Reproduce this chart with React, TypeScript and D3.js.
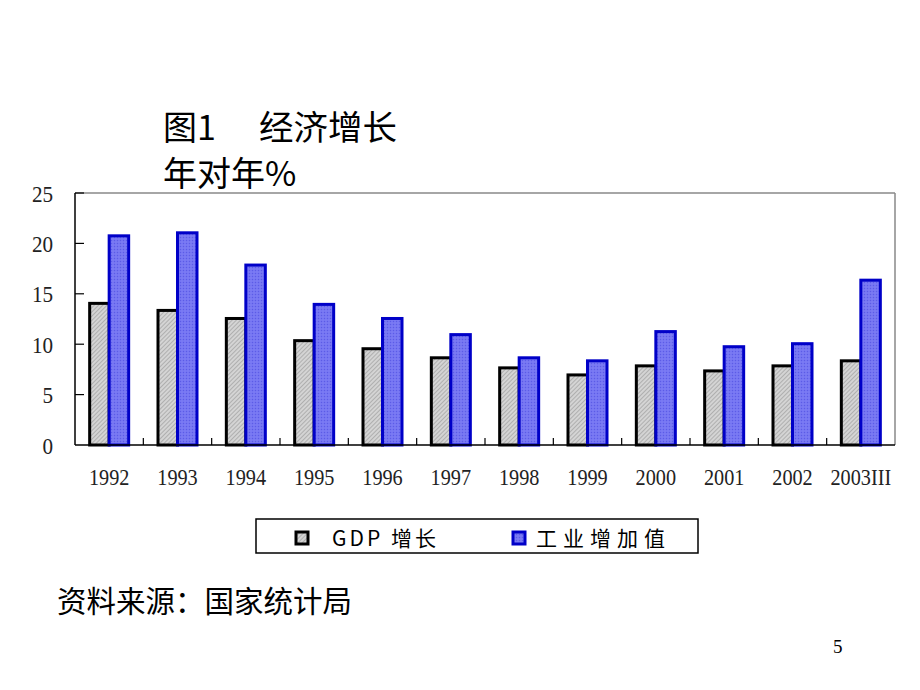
import React from 'react';
import * as d3 from 'd3';

const years = ['1992', '1993', '1994', '1995', '1996', '1997', '1998', '1999', '2000', '2001', '2002', '2003III'];
const gdpGrowth = [14.2, 13.5, 12.7, 10.5, 9.7, 8.8, 7.8, 7.1, 8.0, 7.5, 8.0, 8.5];
const industryGrowth = [20.9, 21.2, 18.0, 14.1, 12.7, 11.1, 8.8, 8.5, 11.4, 9.9, 10.2, 16.5];
const yTicks = [0, 5, 10, 15, 20, 25];
const seriesNames = ['GDP 增长', '工业增加值'];

const W = 920;
const H = 690;
const left = 75;
const right = 895;
const top = 193;
const bottom = 445;

export default function App() {
  const x = d3.scaleBand<string>().domain(years).range([left, right]).paddingInner(0).paddingOuter(0);
  const y = d3.scaleLinear().domain([0, 25]).range([bottom, top]);
  const sub = d3.scaleBand<string>().domain(['gdp', 'ind']).range([0, 39]);
  const groupOffset = (x.bandwidth() - 39) / 2;

  const serif = '"Liberation Serif", "DejaVu Serif", serif';
  const cjk = '"Noto Sans CJK SC", "Noto Sans", sans-serif';
  const sx = 0.88;

  return (
    <svg width={W} height={H} style={{ position: 'absolute', left: 0, top: 0, background: '#fff' }}>
      <defs>
        <pattern id="hatch" width="3" height="3" patternUnits="userSpaceOnUse" patternTransform="rotate(45)">
          <rect width="3" height="3" fill="#d4d4d4" />
          <line x1="0" y1="0" x2="0" y2="3" stroke="#8a8a8a" strokeWidth="1" />
        </pattern>
        <pattern id="dots" width="3" height="3" patternUnits="userSpaceOnUse">
          <rect width="3" height="3" fill="#7474f2" />
          <rect x="0" y="0" width="1" height="1" fill="#5c5ce6" />
          <rect x="1.5" y="1.5" width="1" height="1" fill="#8a8af6" />
        </pattern>
      </defs>

      {/* Title */}
      <text x={163} y={140} fontFamily={cjk} fontSize={34} fill="#000">图1</text>
      <text x={259} y={140} fontFamily={cjk} fontSize={34.5} fill="#000">经济增长</text>
      <text x={163} y={186} fontFamily={cjk} fontSize={34} fill="#000">年对年%</text>

      {/* Plot frame: top/right gray */}
      <line x1={left} y1={top} x2={right} y2={top} stroke="#888" strokeWidth={1.5} />
      <line x1={right} y1={top} x2={right} y2={bottom} stroke="#888" strokeWidth={1.5} />

      {/* Bars */}
      {years.map((yr, i) => {
        const gx = (x(yr) as number) + groupOffset;
        return (
          <g key={yr}>
            <rect
              x={gx + (sub('gdp') as number)}
              y={y(gdpGrowth[i]) + 1.5}
              width={sub.bandwidth()}
              height={bottom - y(gdpGrowth[i]) - 1.5}
              fill="url(#hatch)"
              stroke="#000"
              strokeWidth={3}
            />
            <rect
              x={gx + (sub('ind') as number)}
              y={y(industryGrowth[i]) + 1.5}
              width={sub.bandwidth()}
              height={bottom - y(industryGrowth[i]) - 1.5}
              fill="url(#dots)"
              stroke="#0000c8"
              strokeWidth={3}
            />
          </g>
        );
      })}

      {/* Axes */}
      <line x1={left} y1={top} x2={left} y2={bottom} stroke="#000" strokeWidth={1.5} />
      <line x1={left} y1={bottom} x2={right} y2={bottom} stroke="#000" strokeWidth={1.5} />
      {yTicks.map((t) => (
        <g key={t}>
          {t > 0 && <line x1={left} y1={y(t)} x2={left + 9} y2={y(t)} stroke="#000" strokeWidth={1.2} />}
          <text
            transform={`translate(53,${y(t)}) scale(${sx},1)`}
            dy="0.36em"
            textAnchor="end"
            fontFamily={serif}
            fontSize={24}
            fill="#222"
          >
            {t}
          </text>
        </g>
      ))}
      {years.slice(1).map((yr) => (
        <line key={yr} x1={x(yr) as number} y1={bottom} x2={x(yr) as number} y2={bottom - 7} stroke="#000" strokeWidth={1.2} />
      ))}
      {years.map((yr) => (
        <text
          key={yr}
          transform={`translate(${(x(yr) as number) + x.bandwidth() / 2},485) scale(${sx},1)`}
          textAnchor="middle"
          fontFamily={serif}
          fontSize={23}
          fill="#222"
        >
          {yr}
        </text>
      ))}

      {/* Legend */}
      <rect x={256} y={519} width={442} height={34} fill="#fff" stroke="#000" strokeWidth={1.5} />
      <rect x={296} y={532} width={12} height={12} fill="url(#hatch)" stroke="#000" strokeWidth={3} />
      <text x={332} y={546} fontFamily={cjk} fontSize={21} fill="#000" letterSpacing={3}>{seriesNames[0]}</text>
      <rect x={513} y={532} width={12} height={12} fill="url(#dots)" stroke="#0000c8" strokeWidth={3} />
      <text x={536} y={546} fontFamily={cjk} fontSize={21} fill="#000" letterSpacing={6}>{seriesNames[1]}</text>

      {/* Source */}
      <text x={57} y={612} fontFamily={cjk} fontSize={29.5} fill="#000">资料来源：国家统计局</text>

      {/* Page number */}
      <text x={833} y={653} fontFamily={serif} fontSize={19} fill="#000">5</text>
    </svg>
  );
}
